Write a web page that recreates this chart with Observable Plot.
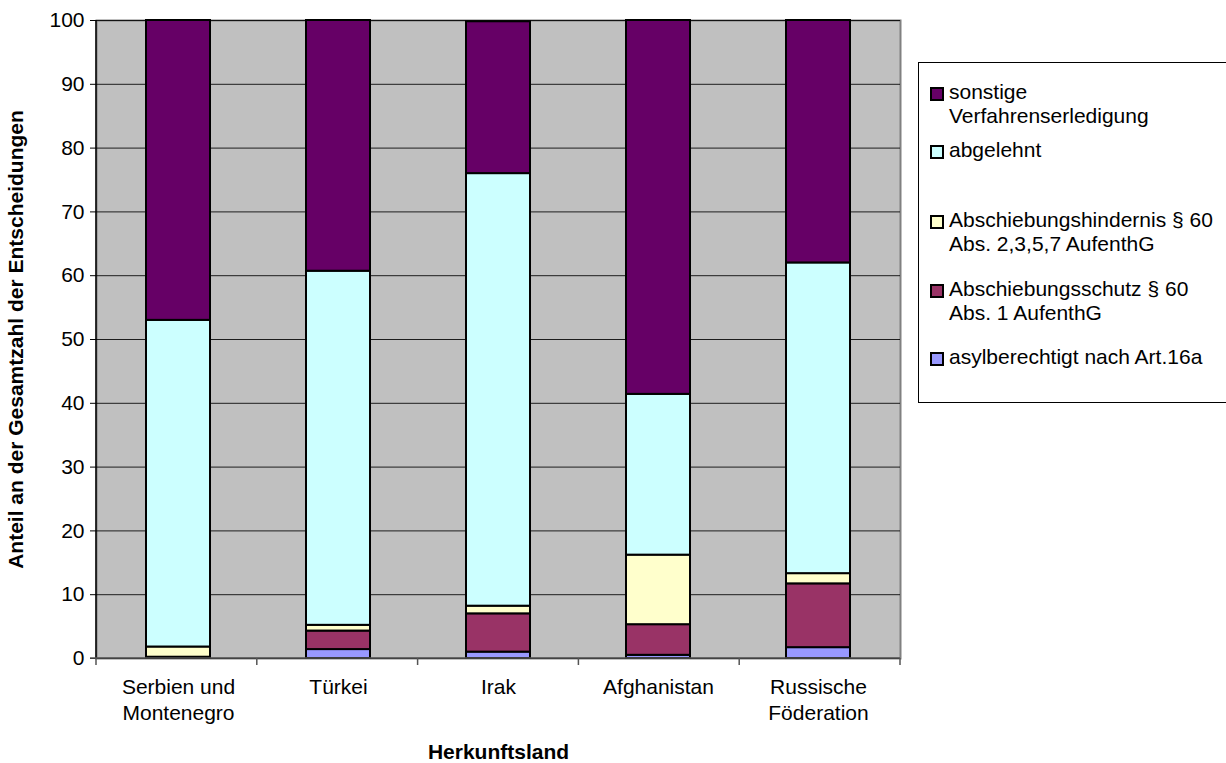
<!DOCTYPE html>
<html><head><meta charset="utf-8">
<script src="https://cdn.jsdelivr.net/npm/d3@7"></script>
<script src="https://cdn.jsdelivr.net/npm/@observablehq/plot@0.6"></script>
<style>
body{margin:0;background:#fff;font-family:"Liberation Sans",Arial,sans-serif;}
#wrap{position:relative;width:1226px;height:763px;overflow:hidden}
#legend{position:absolute;left:918px;top:62px;width:330px;height:341px;border:1px solid #000;background:#fff;box-sizing:border-box}
.item{position:absolute;font-size:21px;line-height:24px;color:#000;white-space:nowrap}
.sw{position:absolute;width:14px;height:14px;border:2px solid #000;box-sizing:border-box}
svg text{font-family:"Liberation Sans",Arial,sans-serif}
g[aria-label="x-axis label"] text, g[aria-label="y-axis label"] text{font-weight:bold}
</style>
</head><body>
<div id="wrap"><div id="chart"></div><div id="legend"></div></div>
<script>
const countries = ["Serbien und Montenegro", "Türkei", "Irak", "Afghanistan", "Russische Föderation"];
const xTickLabels = ["Serbien und\nMontenegro", "Türkei", "Irak", "Afghanistan", "Russische\nFöderation"];
const seriesNames = ["asylberechtigt nach Art.16a", "Abschiebungsschutz § 60 Abs. 1 AufenthG", "Abschiebungshindernis § 60 Abs. 2,3,5,7 AufenthG", "abgelehnt", "sonstige Verfahrenserledigung"];
const seriesColors = ["#9999ff", "#993366", "#ffffcc", "#ccffff", "#660066"];
const asyl      = [0.05, 1.4, 1.0, 0.5, 1.7];
const schutz    = [0.15, 2.9, 6.0, 4.8, 10.0];
const hindernis = [1.6, 0.9, 1.2, 10.9, 1.6];
const abgelehnt = [51.2, 55.5, 67.8, 25.2, 48.7];
const sonstige  = [47.0, 39.3, 23.8, 58.6, 38.0];
const yTicks = [0, 10, 20, 30, 40, 50, 60, 70, 80, 90, 100];
const legendLines = [
  ["sonstige", "Verfahrenserledigung"],
  ["abgelehnt"],
  ["Abschiebungshindernis § 60", "Abs. 2,3,5,7 AufenthG"],
  ["Abschiebungsschutz § 60", "Abs. 1 AufenthG"],
  ["asylberechtigt nach Art.16a"]
];
const legendColors = ["#660066", "#ccffff", "#ffffcc", "#993366", "#9999ff"];

const seriesValues = [asyl, schutz, hindernis, abgelehnt, sonstige];
const rows = [];
countries.forEach((c, i) => seriesValues.forEach((vals, s) => rows.push({country: c, series: seriesNames[s], value: vals[i]})));

function axisLines(index, scales, values, dims) {
  const {width, height, marginLeft, marginRight, marginTop, marginBottom} = dims;
  const band = d3.scaleBand().domain(countries).range([marginLeft, width - marginRight]);
  const y0 = scales.y(0);
  const g = d3.create("svg:g").attr("stroke", "#000");
  g.append("line").attr("x1", marginLeft).attr("x2", marginLeft).attr("y1", marginTop).attr("y2", y0).attr("stroke-width", 1.5);
  g.append("line").attr("x1", marginLeft - 6).attr("x2", width - marginRight).attr("y1", y0).attr("y2", y0).attr("stroke", "#555").attr("stroke-width", 1.5);
  const edges = countries.map(c => band(c)).concat([width - marginRight]);
  edges.forEach(x => g.append("line").attr("x1", x).attr("x2", x).attr("y1", y0).attr("y2", y0 + 7).attr("stroke", "#555").attr("stroke-width", 1.5));
  return g.node();
}

const plot = Plot.plot({
  width: 1226, height: 763,
  marginLeft: 96, marginRight: 326, marginTop: 20, marginBottom: 105,
  style: {fontSize: "21px", fontFamily: "Liberation Sans, Arial, sans-serif", background: "transparent", color: "#000", overflow: "visible"},
  x: {domain: countries, paddingInner: 0.6, paddingOuter: 0.3},
  y: {domain: [0, 100]},
  color: {domain: seriesNames, range: seriesColors},
  marks: [
    Plot.frame({fill: "#c0c0c0", stroke: "#808080", strokeWidth: 2}),
    Plot.gridY(yTicks, {stroke: "#000", strokeOpacity: 0.85, strokeWidth: 1}),
    Plot.barY(rows, {x: "country", y: "value", fill: "series", stroke: "#000", strokeWidth: 2, order: seriesNames}),
    Plot.axisY(yTicks, {tickSize: 6, tickPadding: 6, fontSize: 21, label: "Anteil an der Gesamtzahl der Entscheidungen", labelArrow: false, labelAnchor: "center", labelOffset: 88}),
    Plot.axisX({tickSize: 0, tickPadding: 18, fontSize: 21, lineHeight: 1.2, tickFormat: d => xTickLabels[countries.indexOf(d)], label: "Herkunftsland", labelArrow: false, labelAnchor: "center", labelOffset: 100}),
    axisLines
  ]
});
document.getElementById("chart").appendChild(plot);

const legend = document.getElementById("legend");
const tops = [17, 75, 145, 214, 282];
legendLines.forEach((lines, i) => {
  const sw = document.createElement("div");
  sw.className = "sw";
  sw.style.left = "11px";
  sw.style.top = (tops[i] + 7) + "px";
  sw.style.background = legendColors[i];
  legend.appendChild(sw);
  const t = document.createElement("div");
  t.className = "item";
  t.style.left = "30px";
  t.style.top = tops[i] + "px";
  t.innerHTML = lines.join("<br>");
  legend.appendChild(t);
});
</script>
</body></html>
